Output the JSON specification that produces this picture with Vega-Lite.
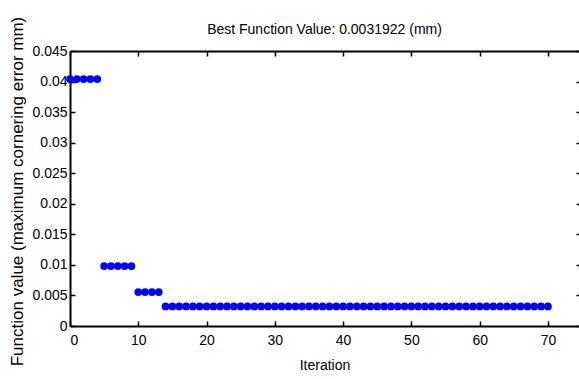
{
  "$schema": "https://vega.github.io/schema/vega-lite/v6.json",
  "autosize": "none",
  "width": 509,
  "height": 275,
  "padding": {"left": 70, "top": 51, "right": 0, "bottom": 53},
  "background": "white",
  "title": {"text": "Best Function Value: 0.0031922 (mm)", "font": "Liberation Sans", "fontSize": 14, "fontWeight": "normal", "color": "#000", "offset": -4, "dy": 17, "anchor": "middle"},
  "config": {
    "view": {"stroke": null},
    "axis": {"labelFont": "Liberation Sans", "titleFont": "Liberation Sans", "labelColor": "#000", "titleColor": "#000", "domainColor": "#000", "tickColor": "#000", "domainWidth": 2, "tickWidth": 1.5, "grid": false, "titleFontWeight": "normal", "labelFontSize": 14, "titleFontSize": 14}
  },
  "data": {"values": [
    {"iter": 0, "f": 0.0404}, {"iter": 1, "f": 0.0404}, {"iter": 2, "f": 0.0404}, {"iter": 3, "f": 0.0404}, {"iter": 4, "f": 0.0404},
    {"iter": 5, "f": 0.0098}, {"iter": 6, "f": 0.0098}, {"iter": 7, "f": 0.0098}, {"iter": 8, "f": 0.0098}, {"iter": 9, "f": 0.0098},
    {"iter": 10, "f": 0.00555}, {"iter": 11, "f": 0.00555}, {"iter": 12, "f": 0.00555}, {"iter": 13, "f": 0.00555},
    {"iter": 14, "f": 0.0031922}, {"iter": 15, "f": 0.0031922}, {"iter": 16, "f": 0.0031922}, {"iter": 17, "f": 0.0031922}, {"iter": 18, "f": 0.0031922}, {"iter": 19, "f": 0.0031922},
    {"iter": 20, "f": 0.0031922}, {"iter": 21, "f": 0.0031922}, {"iter": 22, "f": 0.0031922}, {"iter": 23, "f": 0.0031922}, {"iter": 24, "f": 0.0031922}, {"iter": 25, "f": 0.0031922}, {"iter": 26, "f": 0.0031922}, {"iter": 27, "f": 0.0031922}, {"iter": 28, "f": 0.0031922}, {"iter": 29, "f": 0.0031922},
    {"iter": 30, "f": 0.0031922}, {"iter": 31, "f": 0.0031922}, {"iter": 32, "f": 0.0031922}, {"iter": 33, "f": 0.0031922}, {"iter": 34, "f": 0.0031922}, {"iter": 35, "f": 0.0031922}, {"iter": 36, "f": 0.0031922}, {"iter": 37, "f": 0.0031922}, {"iter": 38, "f": 0.0031922}, {"iter": 39, "f": 0.0031922},
    {"iter": 40, "f": 0.0031922}, {"iter": 41, "f": 0.0031922}, {"iter": 42, "f": 0.0031922}, {"iter": 43, "f": 0.0031922}, {"iter": 44, "f": 0.0031922}, {"iter": 45, "f": 0.0031922}, {"iter": 46, "f": 0.0031922}, {"iter": 47, "f": 0.0031922}, {"iter": 48, "f": 0.0031922}, {"iter": 49, "f": 0.0031922},
    {"iter": 50, "f": 0.0031922}, {"iter": 51, "f": 0.0031922}, {"iter": 52, "f": 0.0031922}, {"iter": 53, "f": 0.0031922}, {"iter": 54, "f": 0.0031922}, {"iter": 55, "f": 0.0031922}, {"iter": 56, "f": 0.0031922}, {"iter": 57, "f": 0.0031922}, {"iter": 58, "f": 0.0031922}, {"iter": 59, "f": 0.0031922},
    {"iter": 60, "f": 0.0031922}, {"iter": 61, "f": 0.0031922}, {"iter": 62, "f": 0.0031922}, {"iter": 63, "f": 0.0031922}, {"iter": 64, "f": 0.0031922}, {"iter": 65, "f": 0.0031922}, {"iter": 66, "f": 0.0031922}, {"iter": 67, "f": 0.0031922}, {"iter": 68, "f": 0.0031922}, {"iter": 69, "f": 0.0031922},
    {"iter": 70, "f": 0.0031922}
  ]},
  "resolve": {"axis": {"x": "independent", "y": "independent"}},
  "layer": [
    {
      "mark": {"type": "point", "filled": true, "color": "#0000ff", "opacity": 1, "size": 60},
      "encoding": {
        "x": {"field": "iter", "type": "quantitative", "scale": {"domain": [0, 74.55], "nice": false, "zero": true},
          "axis": {"orient": "bottom", "title": "Iteration", "values": [0, 10, 20, 30, 40, 50, 60, 70], "tickSize": -5, "labelPadding": 12, "titlePadding": 11, "format": "d"}},
        "y": {"field": "f", "type": "quantitative", "scale": {"domain": [0, 0.045], "nice": false},
          "axis": {"orient": "left", "title": "Function value (maximum cornering error mm)", "titleFontSize": 17, "titleX": -53, "titleY": 140, "titleAngle": -90, "titleBaseline": "middle", "titleAlign": "center", "values": [0, 0.005, 0.01, 0.015, 0.02, 0.025, 0.03, 0.035, 0.04, 0.045], "labelExpr": "datum.value == 0 ? '0' : format(datum.value, '~g')", "tickSize": -5, "labelPadding": 8}}
      }
    },
    {
      "mark": {"type": "point", "opacity": 0},
      "encoding": {
        "x": {"field": "iter", "type": "quantitative", "axis": {"orient": "top", "title": null, "labels": false, "values": [0, 10, 20, 30, 40, 50, 60, 70], "tickSize": -5}},
        "y": {"field": "f", "type": "quantitative", "axis": {"orient": "right", "title": null, "labels": false, "domain": false, "values": [0, 0.005, 0.01, 0.015, 0.02, 0.025, 0.03, 0.035, 0.04, 0.045], "tickSize": -3}}
      }
    }
  ]
}
